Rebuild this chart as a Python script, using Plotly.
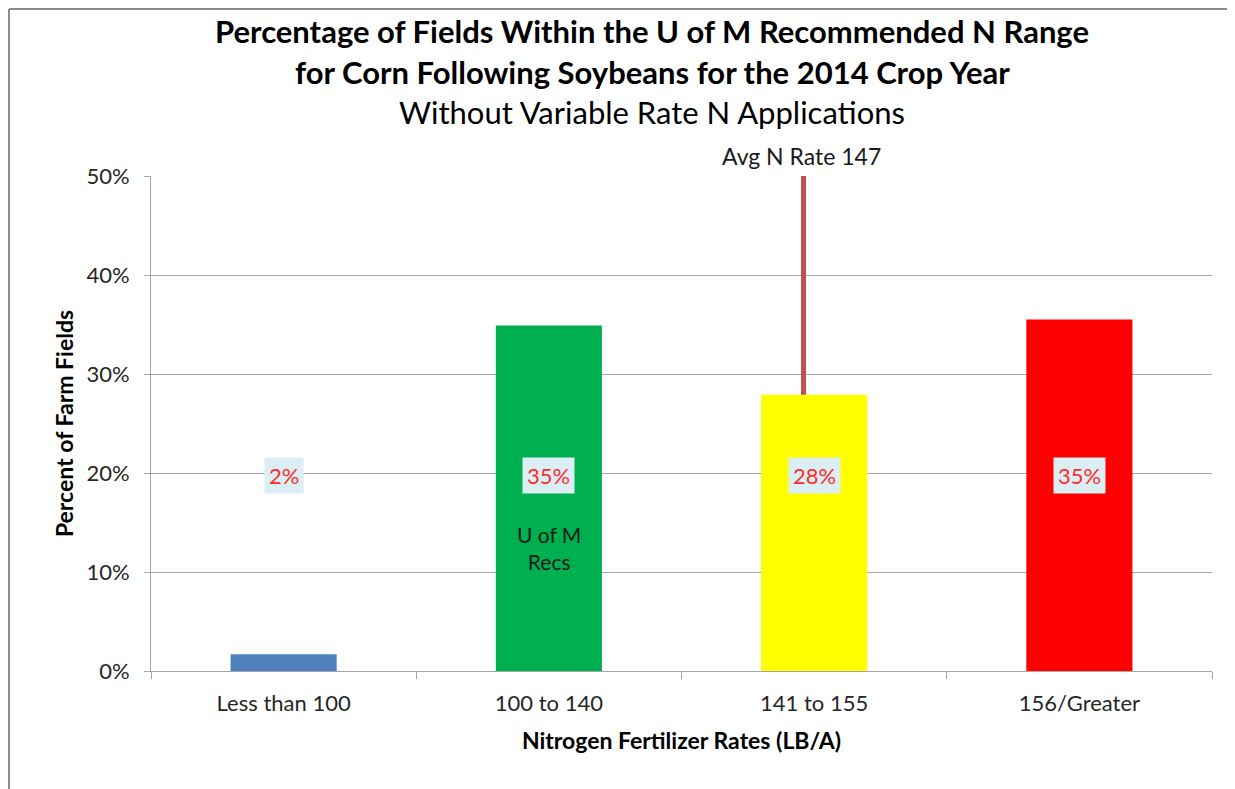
import plotly.graph_objects as go

# chart data
rate_bins = ['Less than 100', '100 to 140', '141 to 155', '156/Greater']
pct_fields = [1.7, 34.9, 27.9, 35.5]
bar_labels = ['2%', '35%', '28%', '35%']
bar_colors = ['#4F81BD', '#00B050', '#FFFF00', '#FF0000']
label_level = 20          # the value labels all sit at the 20% level
avg_n_rate_text = 'Avg N Rate 147'
avg_line_pos = 1.96       # category position of the average line
avg_line_top = 50
recs_note = 'U of M<br>Recs'
recs_level = 12.4

FONT = 'Lato'
GRID = '#A6A6A6'

# figure size and plot area in pixels (page body adds an 8px offset)
W, H = 1227, 781
L, R, T, B = 143, 1204, 168, 663


def px_x(x):
    return (x - L) / (R - L)


def px_y(y):
    return (B - y) / (B - T)


def build_figure():
    fig = go.Figure()

    fig.add_trace(go.Bar(
        x=rate_bins,
        y=pct_fields,
        width=0.4,
        marker=dict(color=bar_colors, line=dict(width=0)),
        hoverinfo='x+y',
        showlegend=False,
    ))

    # average N rate marker, from top of the 141-155 bar up to the top of the chart
    fig.add_shape(type='line', xref='x', yref='y',
                  x0=avg_line_pos, x1=avg_line_pos,
                  y0=pct_fields[2], y1=avg_line_top,
                  line=dict(color='#C0504D', width=5))

    # value labels with the light blue boxes
    for cat, lab in zip(rate_bins, bar_labels):
        fig.add_annotation(x=cat, y=label_level, text=lab, showarrow=False,
                           font=dict(family=FONT, size=22, color='#FF2B2B'),
                           bgcolor='#DAEEF3', borderpad=4, yshift=-2)

    fig.add_annotation(x=rate_bins[1], y=recs_level, text=recs_note, showarrow=False,
                       font=dict(family=FONT, size=21, color='#1A1A1A'))

    fig.add_annotation(x=avg_line_pos, y=px_y(148), xref='x', yref='paper',
                       text=avg_n_rate_text, showarrow=False, yanchor='middle',
                       xshift=-2,
                       font=dict(family=FONT, size=23, color='#1A1A1A'))

    # title lines
    titles = [
        ('<b>Percentage of Fields Within the U of M Recommended N Range</b>', 23),
        ('<b>for Corn Following Soybeans for the 2014 Crop Year</b>', 64),
        ('Without Variable Rate N Applications', 104),
    ]
    for txt, ypx in titles:
        fig.add_annotation(x=px_x(644), y=px_y(ypx), xref='paper', yref='paper',
                           text=txt, showarrow=False, yanchor='middle',
                           font=dict(family=FONT, size=31, color='black'))

    # outer chart border
    border = dict(color='#8C8C8C', width=2)
    fig.add_shape(type='line', xref='paper', yref='paper',
                  x0=px_x(1), x1=px_x(1), y0=px_y(1), y1=px_y(790), line=border)
    fig.add_shape(type='line', xref='paper', yref='paper',
                  x0=px_x(1), x1=px_x(1226), y0=px_y(1), y1=px_y(1), line=border)
    fig.add_shape(type='line', xref='paper', yref='paper',
                  x0=px_x(1226), x1=px_x(1226), y0=px_y(1), y1=px_y(790),
                  line=dict(color='#D0D0D0', width=2))

    fig.update_layout(
        width=W, height=H,
        margin=dict(l=L, r=W - R, t=T, b=H - B, pad=0),
        paper_bgcolor='white',
        plot_bgcolor='white',
        bargap=0.6,
        font=dict(family=FONT, color='#262626'),
    )

    fig.update_xaxes(
        type='category',
        tickson='boundaries',
        ticks='outside', ticklen=7, tickcolor=GRID,
        showline=True, linecolor=GRID, linewidth=1,
        showgrid=False,
        ticklabelstandoff=13,
        tickfont=dict(family=FONT, size=22, color='#262626'),
        title=dict(text='<b>Nitrogen Fertilizer Rates (LB/A)</b>',
                   font=dict(family=FONT, size=23, color='black'), standoff=17),
    )
    fig.update_yaxes(
        range=[0, 50],
        dtick=10,
        ticksuffix='%',
        ticks='outside', ticklen=6, tickcolor=GRID,
        showline=True, linecolor=GRID, linewidth=1,
        showgrid=True, gridcolor=GRID, gridwidth=1,
        zeroline=False,
        ticklabelstandoff=10,
        tickfont=dict(family=FONT, size=22, color='#262626'),
        title=dict(text='<b>Percent of Farm Fields</b>',
                   font=dict(family=FONT, size=23, color='black'), standoff=6),
    )
    return fig


def main():
    fig = build_figure()
    fig.write_html('out.html')


if __name__ == '__main__':
    main()
